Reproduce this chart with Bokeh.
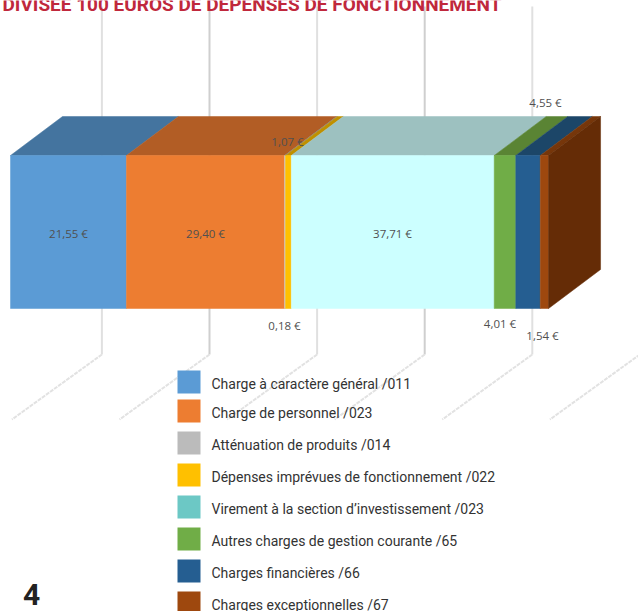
from bokeh.plotting import figure
from bokeh.models import Range1d
from bokeh.core.properties import value
from bokeh.embed import file_html
from bokeh.resources import INLINE

categories = ["Charge à caractère général /011", "Charge de personnel /023", "Atténuation de produits /014",
              "Dépenses imprévues de fonctionnement /022", "Virement à la section d’investissement /023",
              "Autres charges de gestion courante /65", "Charges financières /66", "Charges exceptionnelles /67"]
amounts = [21.55, 29.40, 0.18, 1.07, 37.71, 4.01, 4.55, 1.54]
amount_labels = ["21,55 €", "29,40 €", "0,18 €", "1,07 €", "37,71 €", "4,01 €", "4,55 €", "1,54 €"]
front_colors = ["#5B9BD5", "#ED7D31", "#C9C9C9", "#FFC000", "#CCFFFF", "#70AD47", "#255E91", "#9E480E"]
top_colors = ["#44749F", "#B25D25", "#8A8A8A", "#BF9000", "#9DC1C0", "#5A8434", "#1C4668", "#76360A"]
legend_colors = ["#5B9BD5", "#ED7D31", "#BBBBBB", "#FFC000", "#6CC8C5", "#70AD47", "#255E91", "#9E480E"]
side_color = "#652C06"
grid_values = [20, 40, 60, 80, 100, 120]
title_text = "DIVISÉE 100 EUROS DE DÉPENSES DE FONCTIONNEMENT"
page_number = "4"

W, H = 638, 611
PX_PER_EURO = 5.38
X0 = 10
DEPTH_X, DEPTH_Y = 52 / PX_PER_EURO, 39
BAR_TOP, BAR_BOTTOM = 155, 308
BODY_FONT = value("Roboto")

def ex(px):
    return (px - X0) / PX_PER_EURO

p = figure(width=W, height=H, output_backend="svg", toolbar_location=None,
           x_range=Range1d(ex(0), ex(W)), y_range=Range1d(H, 0),
           min_border=0, outline_line_color=None)
p.axis.visible = False
p.grid.visible = False
p.styles = {"position": "absolute", "left": "0", "top": "0"}

# Gridlines: back wall, below the bar and across the floor
grid_shift = ex(101.4) - grid_values[0]
for g in grid_values:
    gx = g + grid_shift
    shade = "#CFCFCF" if g % 40 == 0 else "#E0E0E0"
    p.line([gx, gx], [6, 354], line_color=shade, line_width=2)
    p.line([gx, gx - 90 / PX_PER_EURO], [354, 419], line_color="#E2E2E2", line_width=2, line_dash="4 1")

# Stacked 3-D bar
start = 0
for v, fc, tc in zip(amounts, front_colors, top_colors):
    end = start + v
    p.patch([start, end, end + DEPTH_X, start + DEPTH_X],
            [BAR_TOP, BAR_TOP, BAR_TOP - DEPTH_Y, BAR_TOP - DEPTH_Y],
            fill_color=tc, line_color=tc, line_width=0.5)
    p.quad(left=start, right=end, top=BAR_TOP, bottom=BAR_BOTTOM,
           fill_color=fc, line_color=fc, line_width=0.5)
    start = end
p.patch([start, start + DEPTH_X, start + DEPTH_X, start],
        [BAR_TOP, BAR_TOP - DEPTH_Y, BAR_BOTTOM - DEPTH_Y, BAR_BOTTOM],
        fill_color=side_color, line_color=side_color, line_width=0.5)

# Data labels
label_x = [68, 205, 284, 287, 392, 499.5, 545, 542]
label_y = [233, 233, 325, 141, 233, 323, 102, 335]
p.text([ex(x) for x in label_x], label_y, text=amount_labels, text_font=value("Open Sans"),
       text_font_size="11.5px", text_color="#505050", text_align="center", text_baseline="middle")

# Legend
sw_top = [370, 399, 431, 463, 495, 527, 559, 591]
p.quad(left=[ex(177)] * 8, right=[ex(200)] * 8, top=sw_top, bottom=[t + 23 for t in sw_top],
       fill_color=legend_colors, line_color=None)
p.text([ex(211)] * 8, [t + 13.5 for t in sw_top], text=categories, text_font=BODY_FONT,
       text_font_size="14px", text_color="#333333", text_align="left", text_baseline="middle")

# Page furniture
p.text([ex(2)], [4], text=[title_text], text_font=BODY_FONT, text_font_style="bold",
       text_font_size="19px", text_color="#C0283C", text_align="left", text_baseline="alphabetic")
p.text([ex(31)], [594], text=[page_number], text_font=BODY_FONT, text_font_style="bold",
       text_font_size="30px", text_color="#222222", text_align="center", text_baseline="middle")

open("out.html", "w").write(file_html(p, INLINE))
